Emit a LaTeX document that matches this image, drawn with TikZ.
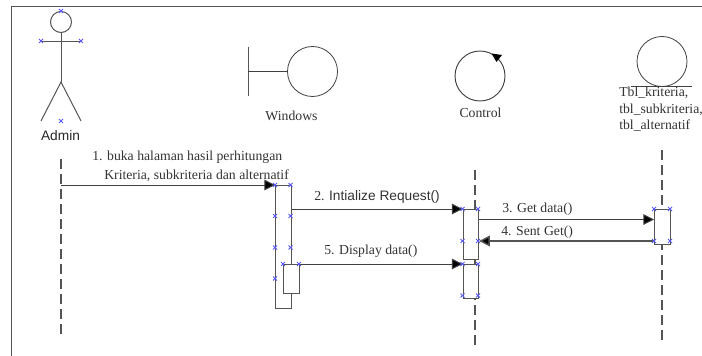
\documentclass[tikz,border=0pt]{standalone}
\usepackage{fontspec}
\setmainfont{Liberation Serif}
\newfontfamily\sansf{Liberation Sans}
\usetikzlibrary{arrows.meta}
\definecolor{ln}{gray}{0.33}
\definecolor{mk}{RGB}{90,90,250}
\tikzset{
  x=0.75pt,y=-0.75pt,
  shape line/.style={draw=ln,line width=0.75pt},
  thin shape/.style={draw=black!75,line width=0.6pt},
  life/.style={draw=ln,line width=1pt,dash pattern=on 7.5pt off 3.75pt},
  box/.style={draw=ln,line width=0.85pt},
  msg/.style={draw=black!75,line width=0.75pt,-{Triangle[length=8pt,width=8pt,fill=black]}},
  lbl/.style={inner sep=0pt,text=black!80,font=\fontsize{10.3}{12}\selectfont},
  lblL/.style={lbl,anchor=west},
  pt/.pic={\draw[mk,line width=0.7pt] (-2,-2)--(2,2) (-2,2)--(2,-2);}
}
\newcommand{\xm}[1]{\foreach \p in {#1} \pic at \p {pt};}
\begin{document}
\begin{tikzpicture}
\useasboundingbox (0,0) rectangle (702,356);
\draw[draw=ln,line width=0.9pt] (11.5,356) -- (11.5,6.5) -- (702,6.5);
% actor
\draw[shape line] (61,22) circle [radius=10.5];
\draw[shape line] (61,32.5) -- (61,82) coordinate (hip);
\draw[shape line] (41,41.5) -- (81,41.5);
\draw[shape line] (41,121) -- (hip) -- (81,121);
\xm{(61,11),(41,41),(81,41),(61,121)}
\node[inner sep=0pt,text=black!85,font=\sansf\fontsize{10.3}{12}\selectfont] (admin) at (60.5,136) {Admin};
% boundary
\node[circle,draw=black!75,line width=0.6pt,minimum size=50pt*0.75,inner sep=0pt] (win) at (312.5,71.5) {};
\coordinate (barT) at (248,47);
\coordinate (barB) at (248,96);
\coordinate (barM) at (248,71.5);
\draw[shape line] (barT) -- (barB);
\draw[thin shape] (barM) -- (win.west);
\node[lbl] (winl) at (291.5,115.5) {Windows};
% control
\node[circle,draw=black!75,line width=0.7pt,minimum size=50pt*0.75,inner sep=0pt] (ctl) at (480,76) {};
\fill[black] (491.5,53.5) -- (502,55) -- (496.5,62) -- cycle;
\node[lbl] (ctll) at (480.5,113) {Control};
% entity
\node[circle,draw=black!75,line width=0.6pt,minimum size=50pt*0.75,inner sep=0pt] (ent) at (662,61.5) {};
\coordinate (entL) at (631,86);
\coordinate (entR) at (692,86);
\draw[thin shape] (entL) -- (entR);
\node[lblL] (e1) at (619,93) {Tbl\_kriteria,};
\node[lblL] (e2) at (619,110) {tbl\_subkriteria,};
\node[lblL] (e3) at (619,126) {tbl\_alternatif};
% lifelines
\coordinate (a1) at (61,159.3); \coordinate (a2) at (61,334);
\coordinate (c1) at (475,170); \coordinate (c2) at (475,345.5);
\coordinate (t1) at (662,150); \coordinate (t2) at (662,340.5);
\draw[life] (a1) -- (a2);
\draw[life] (c1) -- (c2);
\draw[life] (t1) -- (t2);
% activations
\node[box,fill=white,minimum width=15.5*0.75pt,minimum height=123*0.75pt,inner sep=0pt,anchor=north west] (w1) at (275,185) {};
\node[box,fill=white,minimum width=16*0.75pt,minimum height=29*0.75pt,inner sep=0pt,anchor=north west] (w2) at (283,264) {};
\node[box,fill=white,minimum width=15.5*0.75pt,minimum height=49.5*0.75pt,inner sep=0pt,anchor=north west] (c3) at (462.5,209) {};
\node[box,fill=white,minimum width=15.5*0.75pt,minimum height=34*0.75pt,inner sep=0pt,anchor=north west] (c4) at (462.5,264) {};
\node[box,fill=white,minimum width=15.5*0.75pt,minimum height=35*0.75pt,inner sep=0pt,anchor=north west] (t3) at (654,209) {};
% messages
\draw[msg] (61,185) -- (w1.north west);
\draw[msg] (w1.east |- 0,209) -- (c3.north west);
\draw[msg] (w2.north east) -- (c4.north west);
\draw[msg] (c3.east |- 0,219.5) -- (t3.west |- 0,219.5);
\draw[msg,draw=ln,line width=1.1pt] (t3.west |- 0,241) -- (c3.east |- 0,241);
% labels
\node[lblL] (m1a) at (92,157) {1. buka halaman hasil perhitungan};
\node[lblL] (m1b) at (104,176) {Kriteria, subkriteria dan alternatif};
\node[lblL] (m2) at (314,197) {2. {\sansf Intialize Request()}};
\node[lblL] (m5) at (324,251) {5. Display data()};
\node[lblL] (m3) at (502,209) {3. Get data()};
\node[lblL] (m4) at (501,232) {4. Sent Get()};
% marks
\xm{(275,185),(290.5,185),(275,216),(290.5,216),(275,247.5),(290.5,247.5),(275,278.5),(283,264),(299,264)}
\xm{(462.5,209),(478,209),(462.5,241),(478,241),(462.5,264),(478,264),(462.5,295.5),(478,295.5)}
\xm{(654,209),(670,209),(654,241),(670,241)}
\end{tikzpicture}
\end{document}
